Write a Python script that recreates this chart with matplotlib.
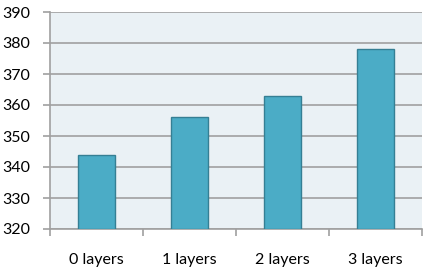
import numpy as np
import matplotlib.pyplot as plt

categories = ['0 layers', '1 layers', '2 layers', '3 layers']
values = [344, 356, 363, 378]
yticks = [320, 330, 340, 350, 360, 370, 380, 390]

plt.rcParams['font.family'] = ['Lato', 'DejaVu Sans']

fig = plt.figure(figsize=(4.27, 2.69), dpi=100)
ax = fig.add_axes([50/427, 1-229/269, 372/427, 217/269])
ax.set_facecolor('#eaf1f5')

x = np.arange(len(categories))
ax.bar(x, [v - 320 for v in values], bottom=320, width=0.4,
       color='#4bacc6', edgecolor='#357f94', linewidth=1.0, zorder=3)

ax.set_xlim(-0.5, len(categories) - 0.5)
ax.set_ylim(320, 390)
ax.set_yticks(yticks)
ax.set_yticklabels([str(t) for t in yticks], fontsize=11.5)
ax.yaxis.grid(True, color='#a0a0a0', linewidth=1.2, zorder=1)

ax.set_xticks(np.arange(-0.5, len(categories), 1.0))
ax.set_xticklabels([])
ax.set_xticks(x, minor=True)
ax.set_xticklabels(categories, minor=True, fontsize=11.5)
ax.tick_params(axis='x', which='minor', length=0, pad=17)
ax.tick_params(axis='x', which='major', length=5, color='#a0a0a0', width=1.2)
ax.tick_params(axis='y', length=5, color='#a0a0a0', width=1.2, pad=9)

for s in ['top', 'right']:
    ax.spines[s].set_visible(False)
for s in ['left', 'bottom']:
    ax.spines[s].set_color('#a0a0a0')
    ax.spines[s].set_linewidth(1.2)

fig.savefig('out.png', dpi=100)
